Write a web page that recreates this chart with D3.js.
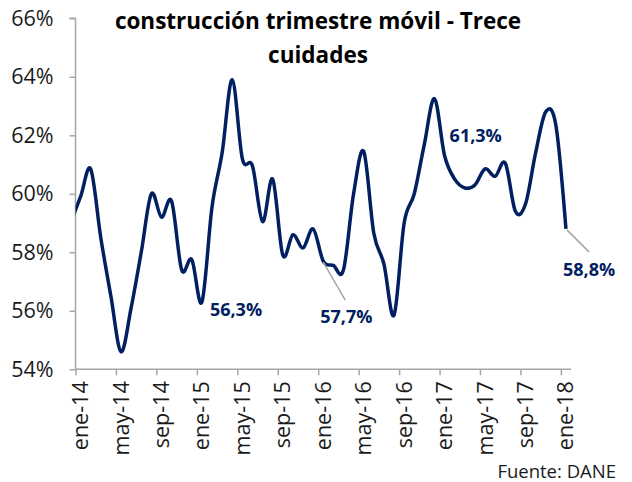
<!DOCTYPE html>
<html>
<head>
<meta charset="utf-8">
<title>construcción trimestre móvil - Trece cuidades</title>
<style>
  html, body {
    margin: 0;
    padding: 0;
    background: #fff;
  }
  svg {
    display: block;
    font-family: "Open Sans", sans-serif;
  }
  .axis path, .axis line {
    stroke: #a6a6a6;
    stroke-width: 1.5px;
  }
  .axis text {
    font-family: "Open Sans", sans-serif;
    font-size: 21.5px;
    fill: #1a1a1a;
  }
  .line {
    fill: none;
    stroke: #002060;
    stroke-width: 3.5px;
  }
  .lbl {
    font-size: 18px;
    font-weight: bold;
    fill: #002060;
  }
  .leader {
    stroke: #a6a6a6;
    stroke-width: 1.5px;
  }
</style>
</head>
<body>
<svg></svg>

<script src="https://d3js.org/d3.v7.min.js"></script>
<script>
  // title lines
  const titleLines = ["construcción trimestre móvil - Trece", "cuidades"];

  // monthly values (%), first entry is dic-13 (only partly visible), then ene-14 ... ene-18
  const values = [
    59.0,
    59.9, 60.85, 58.5, 56.5, 54.6, 56.1, 58.0, 60.0, 59.2, 59.75, 57.4, 57.75,
    56.3, 59.55, 61.4, 63.9, 61.2, 60.95, 59.05, 60.5, 57.9, 58.6, 58.15, 58.8,
    57.7, 57.55, 57.4, 60.0, 61.45, 58.65, 57.6, 55.85, 59.0, 60.0, 61.7, 63.25,
    61.3, 60.5, 60.2, 60.3, 60.85, 60.6, 61.05, 59.4, 59.65, 61.4, 62.8, 62.35,
    58.8
  ];
  const firstIndex = -1; // index of values[0] (dic-13), ene-14 is 0

  // x tick labels, one every 4 months starting at ene-14
  const tickLabels = ["ene-14", "may-14", "sep-14", "ene-15", "may-15", "sep-15",
    "ene-16", "may-16", "sep-16", "ene-17", "may-17", "sep-17", "ene-18"];
  const tickStep = 4;
  const nMonths = 49;

  const yTicks = [54, 56, 58, 60, 62, 64, 66];

  // annotated points: month index and text
  const annotations = [
    { i: 12, text: "56,3%" },
    { i: 24, text: "57,7%" },
    { i: 36, text: "61,3%" },
    { i: 48, text: "58,8%" }
  ];

  const source = "Fuente: DANE";

  const width = 632, height = 482;
  const plot = { left: 75.5, right: 571, top: 18.3, bottom: 369.3 };

  const svg = d3.select("svg")
    .attr("width", width)
    .attr("height", height);

  const x = d3.scaleLinear()
    .domain([-0.5, nMonths - 0.5])
    .range([plot.left, plot.right]);

  const y = d3.scaleLinear()
    .domain([54, 66])
    .range([plot.bottom, plot.top]);

  // title
  const title = svg.append("text")
    .attr("text-anchor", "middle")
    .attr("font-size", 22.5)
    .attr("font-weight", "bold")
    .attr("fill", "#000");
  titleLines.forEach((t, k) => {
    title.append("tspan")
      .attr("x", 318)
      .attr("y", 29 + k * 34)
      .text(t);
  });

  // y axis
  const yAxis = svg.append("g")
    .attr("class", "axis")
    .attr("transform", `translate(${plot.left},0)`)
    .call(d3.axisLeft(y).tickValues(yTicks).tickSize(6).tickPadding(16)
      .tickFormat(d => d + "%"));
  yAxis.select(".domain").attr("d", `M-6,${y(66)}H0V${y(54)}`);

  // x axis: ticks on month boundaries, labels centred in the months
  const boundaries = tickLabels.map((_, k) => k * tickStep - 0.5);
  const xAxis = svg.append("g")
    .attr("class", "axis")
    .attr("transform", `translate(0,${plot.bottom})`)
    .call(d3.axisBottom(x).tickValues(boundaries).tickSize(6).tickFormat(""));
  xAxis.select(".domain").attr("d", `M${plot.left},0H${plot.right}`);

  xAxis.selectAll(".month")
    .data(tickLabels)
    .enter().append("text")
    .attr("class", "month")
    .attr("transform", (d, k) => `translate(${x(k * tickStep)},12) rotate(-90)`)
    .attr("text-anchor", "end")
    .attr("dy", "0.35em")
    .text(d => d);

  // line, clipped to the plot area
  svg.append("clipPath").attr("id", "clip")
    .append("rect")
    .attr("x", plot.left)
    .attr("y", 0)
    .attr("width", plot.right - plot.left)
    .attr("height", plot.bottom);

  const line = d3.line()
    .x((d, k) => x(k + firstIndex))
    .y(d => y(d))
    .curve(d3.curveCardinal.tension(0));

  svg.append("path")
    .datum(values)
    .attr("class", "line")
    .attr("clip-path", "url(#clip)")
    .attr("d", line);

  // annotations (offsets relative to their point)
  const offsets = {
    12: { dx: 8, dy: 14, leader: false },
    24: { dx: -3, dy: 62, leader: [0, 1, 22, 39] },
    36: { dx: 5, dy: -14, leader: false },
    48: { dx: -3, dy: 47, leader: [1, 1, 23, 23] }
  };
  annotations.forEach(a => {
    const v = values[a.i - firstIndex];
    const px = x(a.i), py = y(v);
    const o = offsets[a.i];
    if (o.leader) {
      svg.append("line")
        .attr("class", "leader")
        .attr("x1", px + o.leader[0]).attr("y1", py + o.leader[1])
        .attr("x2", px + o.leader[2]).attr("y2", py + o.leader[3]);
    }
    svg.append("text")
      .attr("class", "lbl")
      .attr("x", px + o.dx)
      .attr("y", py + o.dy)
      .text(a.text);
  });

  // source
  svg.append("text")
    .attr("x", 616)
    .attr("y", 478)
    .attr("text-anchor", "end")
    .attr("font-size", 18.5)
    .attr("fill", "#1a1a1a")
    .text(source);
</script>
</body>
</html>
